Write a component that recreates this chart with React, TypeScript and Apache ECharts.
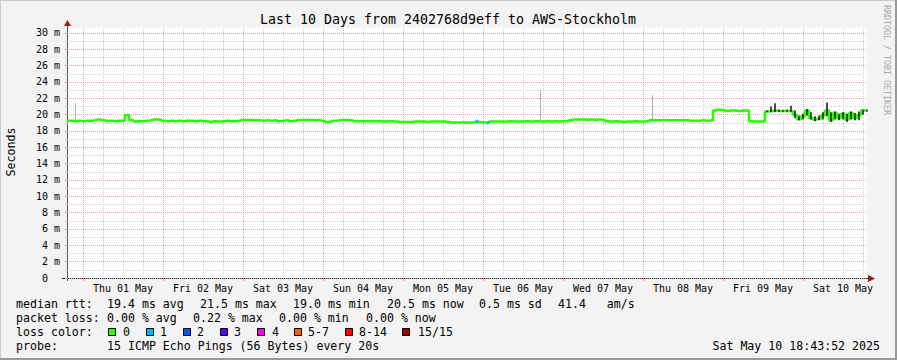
import React, { useEffect, useRef } from 'react';
import * as echarts from 'echarts';

// ---------- data ----------
const STEP_HOURS = 1.2; // one sample every 1.2 h, starting at the graph start (Apr 30 18:43)
const medianRtt = [
  19.25, 19.25, 19.2, 19.25, 19.2, 19.25, 19.25, 19.3, 19.42, 19.3,
  19.22, 19.25, 19.2, 19.25, 19.25, 19.95, 19.35, 19.15, 19.2, 19.2,
  19.25, 19.3, 19.42, 19.38, 19.25, 19.2, 19.25, 19.2, 19.25, 19.2,
  19.25, 19.25, 19.2, 19.25, 19.2, 19.15, 19.1, 19.2, 19.15, 19.2,
  19.25, 19.2, 19.2, 19.25, 19.35, 19.35, 19.35, 19.3, 19.3, 19.25,
  19.3, 19.25, 19.3, 19.2, 19.25, 19.3, 19.2, 19.25, 19.35, 19.35,
  19.35, 19.35, 19.3, 19.35, 19.25, 19.1, 19.15, 19.25, 19.3, 19.35,
  19.35, 19.3, 19.2, 19.2, 19.2, 19.2, 19.2, 19.2, 19.2, 19.15,
  19.2, 19.2, 19.15, 19.1, 19.1, 19.1, 19.1, 19.15, 19.15, 19.15,
  19.1, 19.15, 19.15, 19.15, 19.15, 19.1, 19.05, 19.05, 19.05, 19.05,
  19.05, 19.05, 19.1, 19.1, 19.05, 19.05, 19.15, 19.15, 19.15, 19.15,
  19.15, 19.2, 19.15, 19.15, 19.15, 19.2, 19.15, 19.2, 19.2, 19.15,
  19.2, 19.15, 19.2, 19.15, 19.2, 19.2, 19.3, 19.42, 19.4, 19.42,
  19.38, 19.42, 19.35, 19.42, 19.35, 19.2, 19.15, 19.2, 19.15, 19.1,
  19.15, 19.15, 19.2, 19.15, 19.15, 19.2, 19.3, 19.3, 19.3, 19.35,
  19.3, 19.3, 19.3, 19.3, 19.3, 19.3, 19.25, 19.25, 19.25, 19.3,
  19.25, 19.3, 20.5, 20.6, 20.55, 20.45, 20.5, 20.5, 20.45, 20.5,
  20.5, 19.2, 19.15, 19.15, 19.15, 20.4, 20.45, 20.5, 20.45, 20.45,
  20.45, 20.45, 20.0, 19.45, 19.8, 20.5, 19.6, 19.4, 19.5, 19.9,
  20.5, 19.3, 20.2, 19.6, 20.1, 19.4, 20.2, 19.6, 20.0, 20.5, 20.5,
];

// smoke (min / max of the pings) where it is visible, May 9 - 10
const SMOKE_START_HOURS = 210;
const smokeLo = [
  20.3, 20.3, 20.3, 20.35, 20.35, 20.35, 20.3, 19.6, 19.3, 19.4,
  19.9, 19.4, 19.2, 19.3, 19.4, 19.8, 19.1, 19.4, 19.3, 19.4,
  19.1, 19.4, 19.3, 19.3, 20.0, 20.4,
];
const smokeHi = [
  20.5, 21.0, 21.4, 20.6, 20.55, 20.6, 21.1, 20.5, 19.9, 20.1,
  20.7, 20.3, 19.8, 19.9, 20.3, 21.5, 20.3, 20.4, 20.1, 20.3,
  20.1, 20.4, 20.2, 20.4, 20.6, 20.6,
];

// single outlier pings (light smoke)
const spikeHours = [2.4, 141.9, 175.5];
const spikeBase = [19.3, 19.2, 19.4];
const spikeTop = [21.4, 23.0, 22.4];

// samples with 1/15 loss
const loss1Hours = [123.0, 126.3];
const loss1Values = [19.2, 19.0];

const dayLabels = ['Thu 01 May', 'Fri 02 May', 'Sat 03 May', 'Sun 04 May', 'Mon 05 May',
  'Tue 06 May', 'Wed 07 May', 'Thu 08 May', 'Fri 09 May', 'Sat 10 May'];
const midnightHours = [4.8, 28.8, 52.8, 76.8, 100.8, 124.8, 148.8, 172.8, 196.8, 220.8];
const labelHours = [16.8, 40.8, 64.8, 88.8, 112.8, 136.8, 160.8, 184.8, 208.8, 232.8];
const yMajorTicks = [0, 2, 4, 6, 8, 10, 12, 14, 16, 18, 20, 22, 24, 26, 28, 30];
const yMinorTicks = [1, 3, 5, 7, 9, 11, 13, 15, 17, 19, 21, 23, 25, 27, 29];

const titleText = 'Last 10 Days from 2402768d9eff to AWS-Stockholm';
const rttStats = ['19.4 ms avg', '21.5 ms max', '19.0 ms min', '20.5 ms now', '0.5 ms sd', '41.4   am/s'];
const lossStats = ['0.00 % avg', '0.22 % max', '0.00 % min', '0.00 % now'];
const lossLabels = ['0', '1', '2', '3', '4', '5-7', '8-14', '15/15'];
const lossColors = ['#26ff00', '#00b8ff', '#0059ff', '#5e00ff', '#ff00ff', '#ff5e00', '#ff0000', '#a00000'];
const probeText = '15 ICMP Echo Pings (56 Bytes) every 20s';
const stampText = 'Sat May 10 18:43:52 2025';

// ---------- layout ----------
const MONO = '"DejaVu Sans Mono", monospace';
const rttX = [107, 200, 293, 387, 479, 558];
const lossX = [107, 193, 279, 366];
const boxX = [108, 146, 183, 220, 257, 294, 345, 402];
const boxLabelX = [123, 160, 197, 234, 272, 308, 359, 418];

function txt(text: string, x: number, y: number, extra: any = {}) {
  return {
    type: 'text',
    x,
    y,
    silent: true,
    style: {
      text,
      fill: '#000',
      fontFamily: MONO,
      fontSize: 11.6,
      textVerticalAlign: 'middle',
      textAlign: 'left',
      ...extra,
    },
  };
}

export default function App() {
  const ref = useRef<HTMLDivElement>(null);

  useEffect(() => {
    if (!ref.current) return;
    const chart = echarts.init(ref.current, undefined, { renderer: 'svg' });

    const sixHourTicks = midnightHours
      .flatMap((h) => [h - 18, h - 12, h - 6, h + 6, h + 12, h + 18])
      .filter((h, i, arr) => h > 0 && h < 240 && arr.indexOf(h) === i && !midnightHours.includes(h));

    const graphic: any[] = [
      // frame shading
      { type: 'line', silent: true, shape: { x1: 0, y1: 0.5, x2: 897, y2: 0.5 }, style: { stroke: '#cbcbcb', lineWidth: 1 } },
      { type: 'line', silent: true, shape: { x1: 0.5, y1: 0, x2: 0.5, y2: 360 }, style: { stroke: '#cbcbcb', lineWidth: 1 } },
      { type: 'line', silent: true, shape: { x1: 0, y1: 359, x2: 897, y2: 359 }, style: { stroke: '#999999', lineWidth: 2 } },
      { type: 'line', silent: true, shape: { x1: 896, y1: 0, x2: 896, y2: 360 }, style: { stroke: '#999999', lineWidth: 2 } },
      // title
      txt(titleText, 448, 19, { fontSize: 13.3, textAlign: 'center' }),
      // y axis title
      { ...txt('Seconds', 11, 152, { textAlign: 'center' }), rotation: Math.PI / 2 },
      // watermark
      { ...txt('RRDTOOL / TOBI OETIKER', 887, 5, { fontSize: 8.3, fill: '#a8a8a8' }), rotation: -Math.PI / 2 },
      // axis extensions and arrows
      { type: 'line', silent: true, shape: { x1: 62, y1: 278.5, x2: 869, y2: 278.5 }, style: { stroke: '#222', lineWidth: 1 } },
      { type: 'line', silent: true, shape: { x1: 67.5, y1: 281, x2: 67.5, y2: 24 }, style: { stroke: '#555', lineWidth: 1 } },
      { type: 'polygon', silent: true, shape: { points: [[868, 275], [868, 282], [875, 278.5]] }, style: { fill: '#a01818' } },
      { type: 'polygon', silent: true, shape: { points: [[64, 26], [71, 26], [67.5, 20]] }, style: { fill: '#a01818' } },
      // legend rows
      txt('median rtt:', 16, 304),
      ...rttStats.map((s, i) => txt(s, rttX[i], 304)),
      txt('packet loss:', 16, 318),
      ...lossStats.map((s, i) => txt(s, lossX[i], 318)),
      txt('loss color:', 16, 332),
      ...lossLabels.flatMap((l, i) => [
        { type: 'rect', silent: true, shape: { x: boxX[i] + 0.5, y: 328.5, width: 7, height: 7 }, style: { fill: lossColors[i], stroke: '#000', lineWidth: 1 } },
        txt(l, boxLabelX[i], 332),
      ]),
      txt('probe:', 16, 346),
      txt(probeText, 107, 346),
      txt(stampText, 880, 346, { textAlign: 'right' }),
    ];

    const majorGrid = { color: '#eaa2a2', type: [1, 1], width: 1 };
    const minorGrid = { color: '#cfcfcf', type: [1, 1], width: 1 };

    const option: any = {
      animation: false,
      backgroundColor: '#f3f3f3',
      grid: { left: 67, top: 28, width: 800, height: 250, show: true, backgroundColor: '#ffffff', borderWidth: 0 },
      xAxis: [
        {
          type: 'value', min: 0, max: 240, position: 'bottom',
          axisLine: { show: false, onZero: false },
          axisTick: { show: true, customValues: midnightHours, length: 3, lineStyle: { color: '#e08a8a' } },
          axisLabel: { show: false },
          splitLine: { show: true, lineStyle: majorGrid },
        },
        {
          type: 'value', min: 0, max: 240, position: 'bottom',
          axisLine: { show: false, onZero: false },
          axisTick: { show: true, customValues: sixHourTicks, length: 2, lineStyle: { color: '#c8c8c8' } },
          axisLabel: { show: false },
          splitLine: { show: true, lineStyle: minorGrid },
        },
        {
          type: 'value', min: 0, max: 240, position: 'bottom',
          axisLine: { show: false, onZero: false },
          axisTick: { show: false },
          splitLine: { show: false },
          axisLabel: {
            show: true, customValues: labelHours, margin: 5,
            fontFamily: MONO, fontSize: 10, color: '#000',
            formatter: (v: number) => dayLabels[labelHours.findIndex((h) => Math.abs(h - v) < 0.01)] ?? '',
          },
        },
      ],
      yAxis: [
        {
          type: 'value', min: 0, max: 30.61, position: 'left',
          axisLine: { show: false },
          axisTick: { show: true, customValues: yMajorTicks, length: 2, lineStyle: { color: '#e08a8a' } },
          axisLabel: {
            show: true, customValues: yMajorTicks, margin: 7,
            fontFamily: MONO, fontSize: 10, color: '#000',
            formatter: (v: number) => (v === 0 ? '0\u00a0\u00a0' : `${v} m`),
          },
          splitLine: { show: true, lineStyle: majorGrid },
        },
        {
          type: 'value', min: 0, max: 30.61, position: 'left',
          axisLine: { show: false },
          axisTick: { show: true, customValues: yMinorTicks, length: 2, lineStyle: { color: '#c8c8c8' } },
          axisLabel: { show: false },
          splitLine: { show: true, lineStyle: minorGrid },
        },
      ],
      series: [
        {
          // invisible carrier for the smoke strokes (min..max of the pings)
          name: 'smoke', type: 'line', showSymbol: false, silent: true,
          lineStyle: { width: 0, opacity: 0 },
          data: smokeLo.map((v, i) => [SMOKE_START_HOURS + i * STEP_HOURS, v]),
          markLine: {
            silent: true, symbol: ['none', 'none'], label: { show: false },
            lineStyle: { color: '#151515', width: 1.5, type: 'solid' },
            data: smokeLo.map((v, i) => [
              { coord: [SMOKE_START_HOURS + i * STEP_HOURS, v] },
              { coord: [SMOKE_START_HOURS + i * STEP_HOURS, smokeHi[i]] },
            ]),
          },
          z: 2,
        },
        {
          name: 'median rtt', type: 'line', step: 'middle', showSymbol: false, silent: true,
          lineStyle: { color: lossColors[0], width: 2.5 },
          itemStyle: { color: lossColors[0] },
          data: medianRtt.map((v, i) => [i * STEP_HOURS, v]),
          markLine: {
            silent: true, symbol: ['none', 'none'], label: { show: false },
            lineStyle: { color: '#b4b4b4', width: 1, type: 'solid' },
            data: spikeHours.map((h, i) => [{ coord: [h, spikeBase[i]] }, { coord: [h, spikeTop[i]] }]),
          },
          z: 3,
        },
        {
          name: 'loss 1', type: 'scatter', symbol: 'rect', symbolSize: [3, 3], silent: true,
          itemStyle: { color: lossColors[1] },
          data: loss1Hours.map((h, i) => [h, loss1Values[i]]),
          z: 4,
        },
      ],
      graphic,
    };

    chart.setOption(option);
    return () => chart.dispose();
  }, []);

  return (
    <div
      ref={ref}
      style={{ position: 'fixed', left: 0, top: 0, width: 897, height: 360 }}
    />
  );
}
